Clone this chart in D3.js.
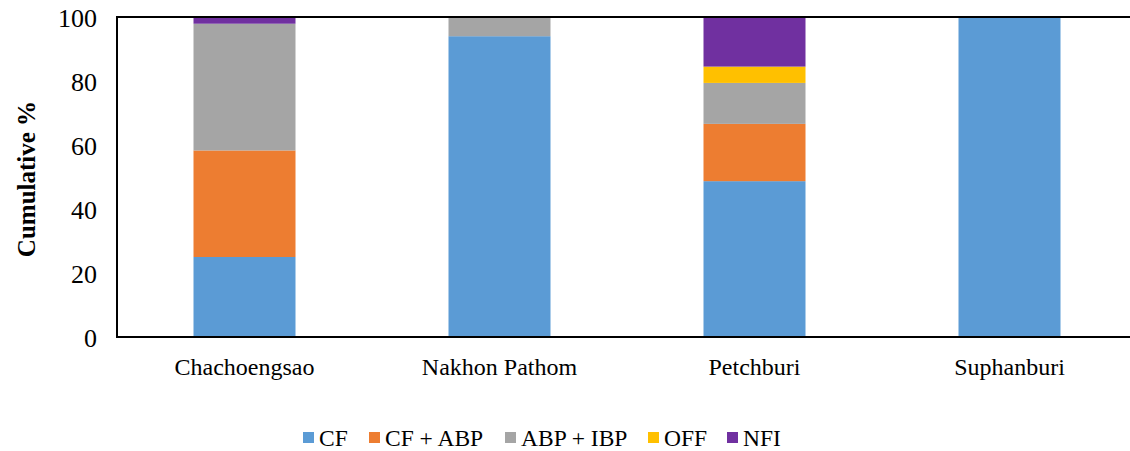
<!DOCTYPE html>
<html>
<head>
<meta charset="utf-8">
<script src="https://cdn.jsdelivr.net/npm/d3@7"></script>
<style>
  body { margin: 0; background: #fff; }
  svg { display: block; }
  text { font-family: "Liberation Serif", "Times New Roman", serif; fill: #000; }
</style>
</head>
<body>
<div id="chart"></div>
<script>
// provinces on the x axis
var provinces = ["Chachoengsao", "Nakhon Pathom", "Petchburi", "Suphanburi"];

// series, bottom to top
var seriesNames = ["CF", "CF + ABP", "ABP + IBP", "OFF", "NFI"];
var seriesColors = ["#5b9bd5", "#ed7d31", "#a5a5a5", "#ffc000", "#7030a0"];

// percent values per province (same order as provinces)
var cf      = [25.0, 94.0, 48.7, 100];
var cfAbp   = [33.3, 0, 17.9, 0];
var abpIbp  = [39.6, 6.0, 12.8, 0];
var off     = [0, 0, 5.1, 0];
var nfi     = [2.1, 0, 15.5, 0];

var yTicks = [0, 20, 40, 60, 80, 100];

const width = 1130, height = 451;
const margin = {top: 17, right: -7, bottom: 114, left: 117};
const innerW = width - margin.left - margin.right,
      innerH = height - margin.top - margin.bottom;

const svg = d3.select("#chart")
  .append("svg")
    .attr("width", width)
    .attr("height", height);

const g = svg.append("g")
    .attr("transform", `translate(${margin.left},${margin.top})`);

// build table for the stack
const table = provinces.map((p, i) => ({
  province: p,
  "CF": cf[i],
  "CF + ABP": cfAbp[i],
  "ABP + IBP": abpIbp[i],
  "OFF": off[i],
  "NFI": nfi[i]
}));

const stacked = d3.stack().keys(seriesNames)(table);

const x = d3.scaleBand()
    .domain(provinces)
    .range([0, innerW])
    .paddingInner(0.6)
    .paddingOuter(0.3);

const y = d3.scaleLinear()
    .domain([0, 100])
    .range([innerH, 0]);

const color = d3.scaleOrdinal()
    .domain(seriesNames)
    .range(seriesColors);

// bars
g.append("g")
  .selectAll("g")
  .data(stacked)
  .join("g")
    .attr("fill", d => color(d.key))
  .selectAll("rect")
  .data(d => d)
  .join("rect")
    .attr("x", d => x(d.data.province))
    .attr("y", d => y(d[1]))
    .attr("width", x.bandwidth())
    .attr("height", d => y(d[0]) - y(d[1]));

// frame (left, top, bottom)
g.append("path")
  .attr("d", `M${innerW},0H0V${innerH}H${innerW}`)
  .attr("fill", "none")
  .attr("stroke", "#000")
  .attr("stroke-width", 2);

// y axis labels
const yAxis = g.append("g")
  .call(d3.axisLeft(y).tickValues(yTicks).tickSize(0).tickPadding(20));
yAxis.select(".domain").remove();
yAxis.selectAll("text")
  .style("font-family", "Liberation Serif, serif")
  .style("font-size", "26px")
  .attr("dy", "0.35em");

// x axis labels
const xAxis = g.append("g")
  .attr("transform", `translate(0,${innerH})`)
  .call(d3.axisBottom(x).tickSize(0).tickPadding(21));
xAxis.select(".domain").remove();
xAxis.selectAll("text")
  .style("font-family", "Liberation Serif, serif")
  .style("font-size", "24px");

// y title
svg.append("text")
  .attr("transform", `translate(26,${margin.top + 162}) rotate(-90)`)
  .attr("text-anchor", "middle")
  .attr("dy", "0.35em")
  .style("font-size", "25px")
  .style("font-weight", "bold")
  .text("Cumulative %");

// legend
const legendX = [303, 369, 505, 648, 727];
const legend = svg.append("g")
  .selectAll("g")
  .data(seriesNames)
  .join("g")
    .attr("transform", (d, i) => `translate(${legendX[i]},438)`);

legend.append("rect")
  .attr("x", 0)
  .attr("y", -6)
  .attr("width", 11)
  .attr("height", 11)
  .attr("fill", d => color(d));

legend.append("text")
  .attr("x", 16)
  .attr("dy", "0.35em")
  .style("font-size", "23.5px")
  .text(d => d);
</script>
</body>
</html>
